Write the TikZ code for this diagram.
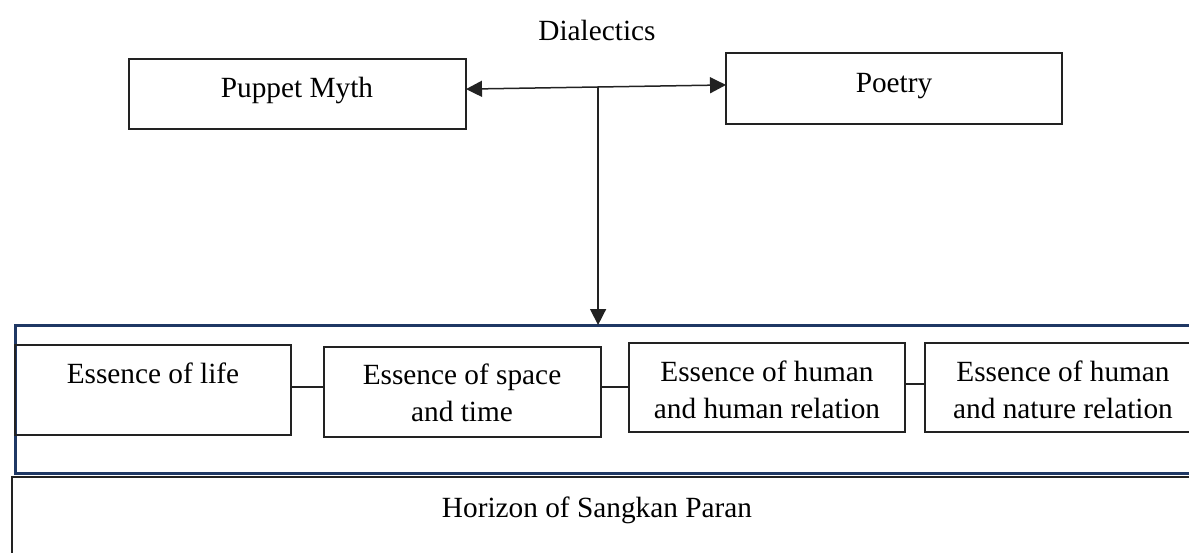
\documentclass[tikz,border=0pt]{standalone}
\usepackage{fontspec}
\setmainfont{Liberation Serif}
\usetikzlibrary{arrows.meta,calc}
\definecolor{navy}{HTML}{1F3864}
\definecolor{boxline}{HTML}{222222}
\begin{document}
\begin{tikzpicture}[x=1pt,y=-1pt,
  box/.style={draw=boxline,line width=1.6pt,inner sep=0pt,outer sep=0pt,anchor=north west},
  lbl/.style={font=\fontsize{29.3}{37}\selectfont,anchor=base,inner sep=0pt,align=center},
  framebox/.style={draw=navy,line width=3pt,inner sep=0pt,outer sep=0pt,anchor=north west},
  conn/.style={draw=boxline,line width=1.5pt},
  arr/.style={conn,{Triangle[length=16pt,width=16pt]}-{Triangle[length=16pt,width=16pt]}},
  darr/.style={conn,-{Triangle[length=16pt,width=16pt]}}]
\useasboundingbox (0,0) rectangle (1189,552);
\clip (0,0) rectangle (1189,552);
% top boxes
\node[box,minimum width=337pt,minimum height=70pt] (pm) at (129,59) {};
\node[box,minimum width=336pt,minimum height=71pt] (po) at (726,53) {};
\node[lbl] (tdia) at (597,40) {Dialectics};
\node[lbl] (tpm) at (297,97) {Puppet Myth};
\node[lbl] (tpo) at (894,92) {Poetry};
% frame and horizon
\node[framebox,minimum width=1250pt,minimum height=148pt] (fr) at (15,325) {};
\node[box,minimum width=1250pt,minimum height=120pt] (hz) at (12,477) {};
\node[lbl] (thz) at (597,517) {Horizon of Sangkan Paran};
% essence boxes
\node[box,minimum width=276pt,minimum height=90pt] (b1) at (15,345) {};
\node[box,minimum width=277pt,minimum height=90pt] (b2) at (324,347) {};
\node[box,minimum width=276pt,minimum height=89pt] (b3) at (629,343) {};
\node[box,minimum width=276pt,minimum height=89pt] (b4) at (925,343) {};
\node[lbl] (t1) at (153,383) {Essence of life};
\node[lbl] (t2) at (462,421) {Essence of space\\and time};
\node[lbl] (t3) at (767,418) {Essence of human\\and human relation};
\node[lbl] (t4) at (1063,418) {Essence of human\\and nature relation};
% connectors between essence boxes
\coordinate (l12) at ($(b1.north east)!0.467!(b1.south east)$);
\coordinate (l23) at ($(b2.north east)!0.444!(b2.south east)$);
\coordinate (l34) at ($(b3.north east)!0.46!(b3.south east)$);
\draw[conn] (l12) -- (l12 -| b2.west);
\draw[conn] (l23) -- (l23 -| b3.west);
\draw[conn] (l34) -- (l34 -| b4.west);
% arrows
\coordinate (pmr) at ($(pm.north east)!0.43!(pm.south east)$);
\coordinate (por) at ($(po.north west)!0.45!(po.south west)$);
\draw[arr] (pmr) -- (por);
\coordinate (j) at ($(pmr)!0.508!(por)$);
\draw[darr] (j) -- (j |- fr.north);
\end{tikzpicture}
\end{document}
